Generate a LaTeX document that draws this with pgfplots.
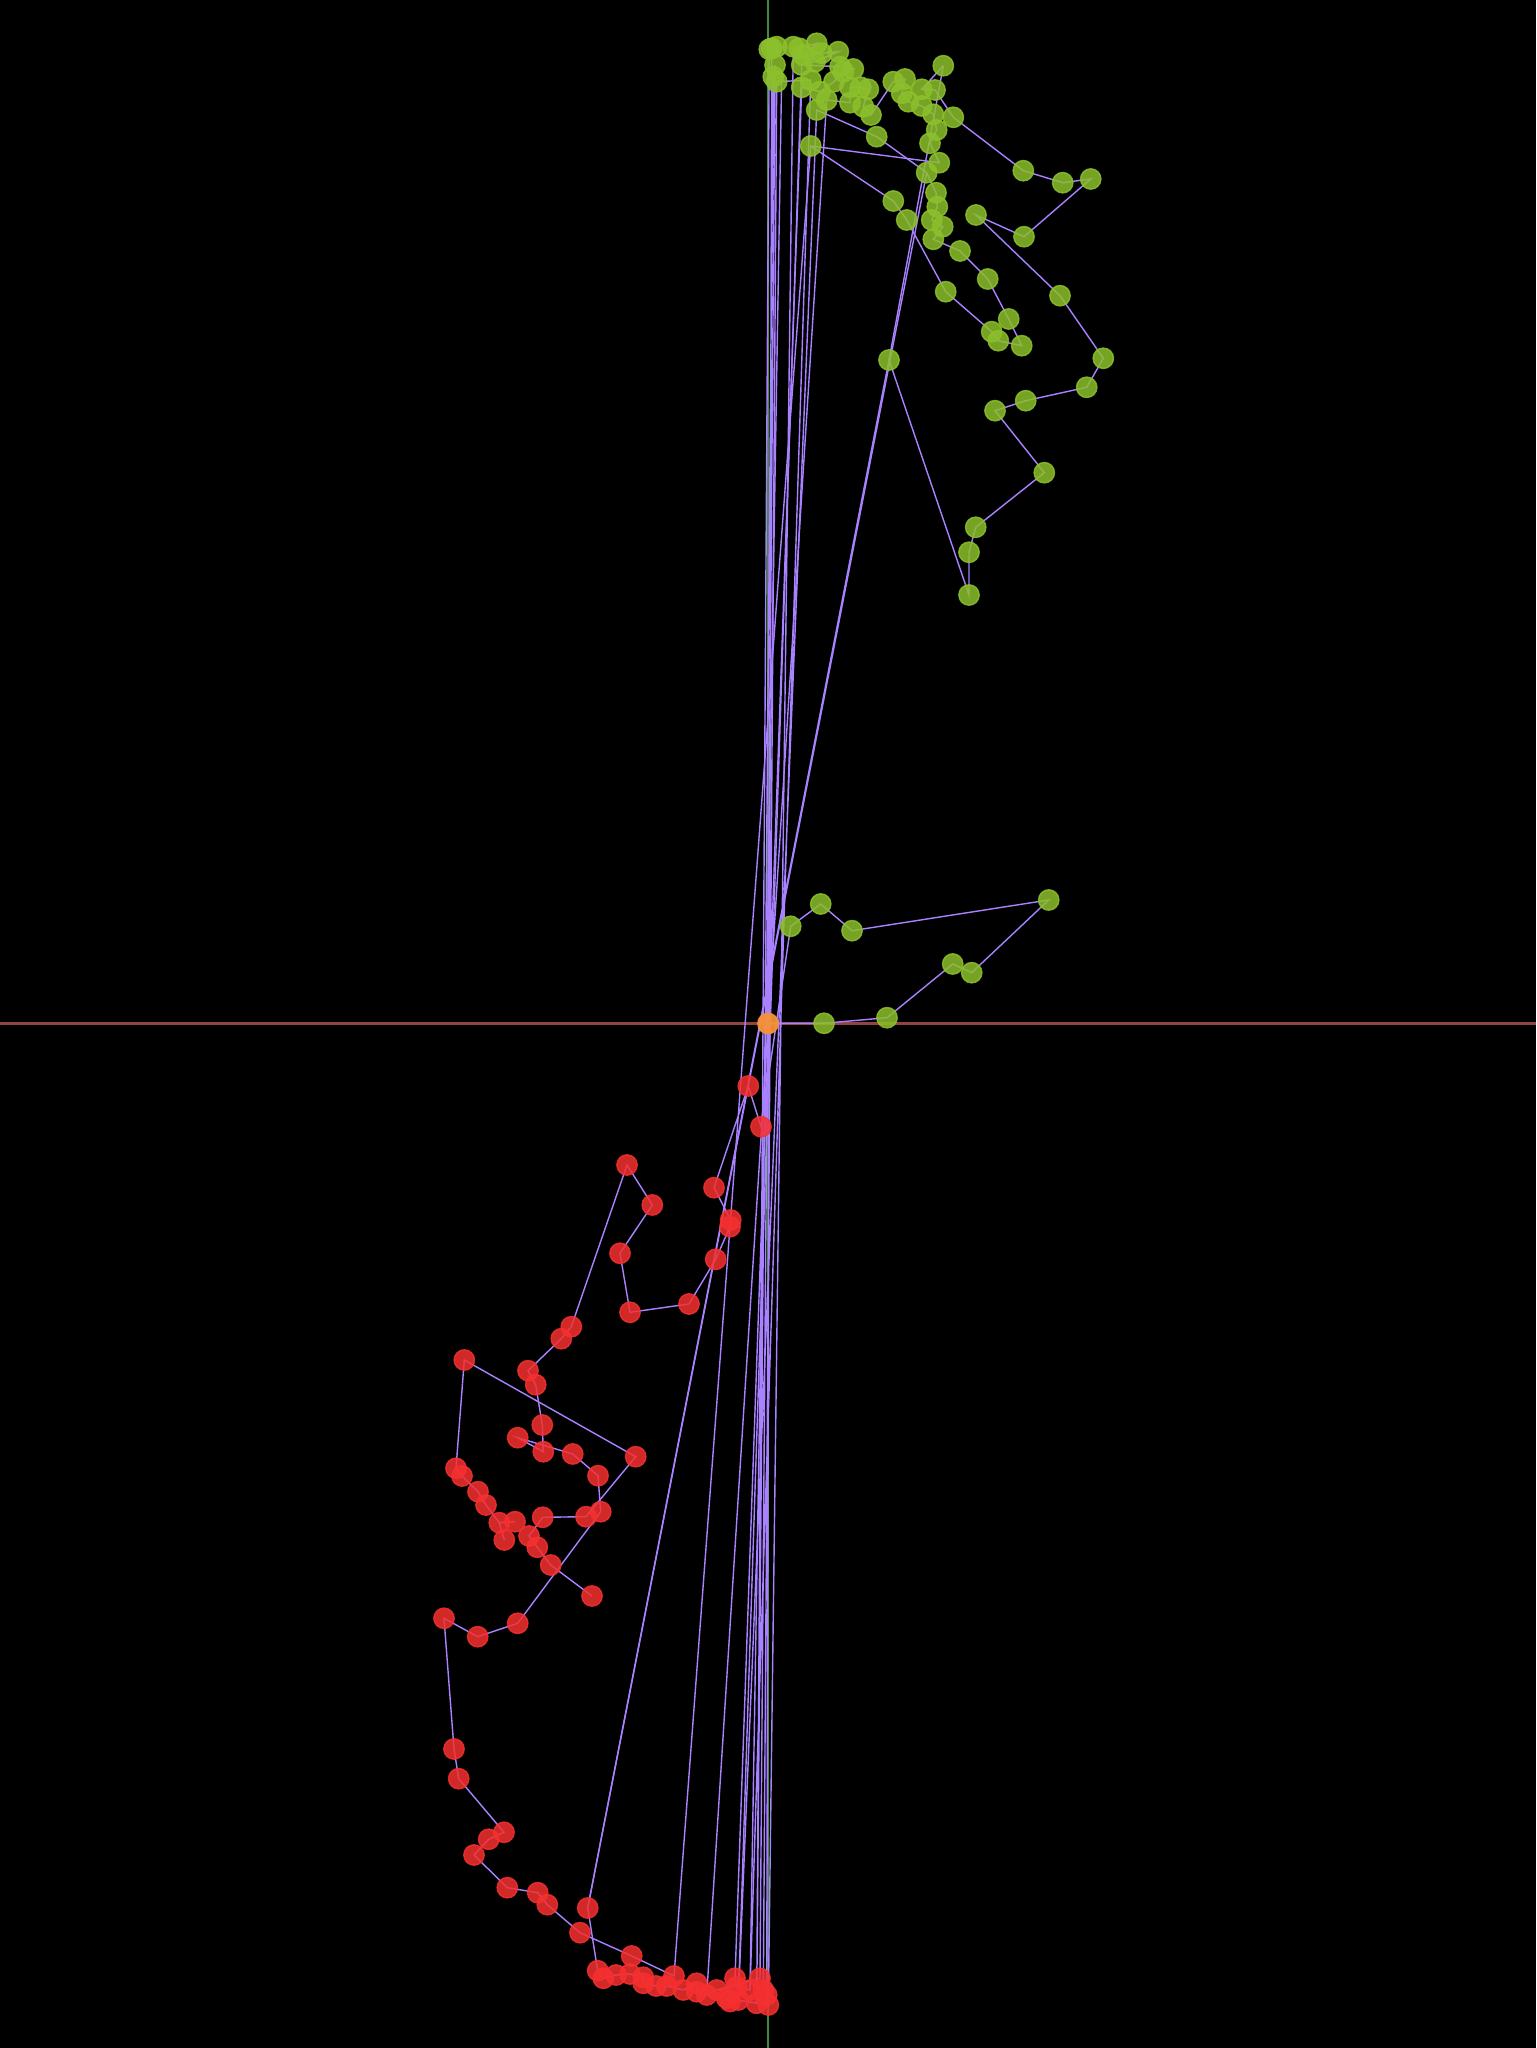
\documentclass[border=0pt]{standalone}
\usepackage{pgfplots}
\pgfplotsset{compat=1.18}
\definecolor{pl}{RGB}{168,130,255}
\definecolor{gm}{RGB}{140,192,44}
\definecolor{rm}{RGB}{246,48,48}
\definecolor{om}{RGB}{245,146,55}
\definecolor{axg}{RGB}{62,140,62}
\definecolor{axr}{RGB}{145,68,68}
\begin{document}
\begin{tikzpicture}
\begin{axis}[width=15.36cm,height=20.48cm,scale only axis,
  xmin=-768,xmax=768,ymin=-1024.5,ymax=1023.5,
  axis line style={draw=none},ticks=none,
  axis background/.style={fill=black}]
% ---- axis lines ----
\addplot[color=axg,line width=0.6pt,no marks] coordinates {(0,-1024.5)(0,1023.5)};
\addplot[color=axr,line width=0.6pt,no marks] coordinates {(-768,0)(768,0)};
% ---- trajectory segments ----
\addplot[color=pl,line width=0.4pt,no marks] coordinates {
(0,0)(56,0.2)(119,5.8)(184.7,59.5)(203.7,50.8)(280.7,123.5)(84,92.8)(52.7,119.5)(22.7,97.2)
(-7,-103.2)(-19.7,-62.5)(-54,-164.2)(-37.3,-196.5)(-38,-203.2)(-52.3,-235.8)(-79,-280.5)
(-138,-288.8)(-148,-229.8)(-115.7,-181.5)(-141,-141.5)(-196.7,-303.2)(-206.7,-315.2)
(-240,-347.2)(-232.3,-361.2)(-225.7,-401.5)(-224.7,-428.2)(-250.3,-414.2)(-195.3,-430.5)
(-170,-452.2)(-167.3,-488.2)(-250.3,-599.8)(-290.3,-613.2)(-324,-594.8)(-314,-725.5)
(-309.3,-755.2)(-264,-808.8)(-279.3,-815.8)(-294,-831.5)(-260.7,-864.2)(-230.3,-869.2)
(-220.7,-881.2)(-188,-909.2)(-136.3,-932.5)(-94,-952.5)
(42.7,877.5)(171.3,860.8)(162,880.2)(168.7,893.5)(165.3,909.2)(153.7,917.5)(140.3,921.8)
(133.7,930.2)(137,944.5)(125.3,941.8)(103,908.5)(95.3,916.8)(100.3,934.2)(92.7,936.2)
(82,936.2)(82,920.8)(58.7,923.5)};
\addplot[color=pl,line width=0.4pt,no marks] coordinates {
(42.7,877.5)(125.3,822.5)(138.7,803.5)(177.7,731.8)(223.7,691.8)(230.3,682.8)(253.7,677.8)
(240.7,704.5)(219.7,744.5)(192,772.5)(165.3,784.2)(174.7,796.8)(163.7,803.5)(169.3,816.8)
(168,830.8)(158.7,850.8)(108.7,886.8)(48.7,913.5)
(-29.7,-976.5)(-38,-978)(-41.3,-974.8)(0.3,-981.5)
(25.3,976.8)(31.3,975.2)(48.7,980.2)(35.3,968.5)(53.7,970.2)(70.3,971.8)(47,961.8)(33.7,958.5)
(72,956.8)(85.3,954.5)(75.3,951.8)(66,941.8)(52,931.8)(33.7,936.2)
(-33,-954.8)(-31.3,-963.2)(-18,-966.5)
(42.7,943.5)(8.7,941.8)
(-4.7,-966.5)(-1.3,-971.5)
(3.7,975.2)(8.7,976.8)(1.3,974.2)
(-11.3,-979.8)
(5.3,946.8)(7,958.5)
(-8,-954.8)(-51.3,-966.5)(-61.3,-971.5)(-71.3,-968.2)(-71.3,-959.8)(-84.7,-966.5)
(-101.3,-962.5)(-112,-962.5)(-124.7,-959.8)(-124.7,-953.8)(-138,-950.5)(-152,-951.5)
(-164.7,-954.8)(-170.3,-947.2)(-180.3,-884.5)
(121,663.5)(201,428.5)(201,471.2)(207.7,496.2)(276.3,550.8)(227,612.8)(257.7,622.8)
(318.7,636.2)(335.3,665.2)(292,727.8)(208,808.5)(256,786.8)(322.7,844.5)(294.7,840.8)
(255.3,852.8)(185.3,906.2)(167,933.5)(153.7,934.2)(175.3,957.8)};
\addplot[color=pl,line width=0.4pt,no marks] coordinates {(121,663.5)(175.3,957.8)};
\addplot[color=pl,line width=0.4pt,no marks] coordinates {(-180.3,-884.5)(158.7,850.8)};
\addplot[color=pl,line width=0.4pt,no marks] coordinates {(58.7,923.5)(-61.3,-971.5)};
\addplot[color=pl,line width=0.4pt,no marks] coordinates {(33.7,958.5)(-29.7,-976.5)};
\addplot[color=pl,line width=0.4pt,no marks] coordinates {(13.7,950)(-18,-966.5)};
\addplot[color=pl,line width=0.4pt,no marks] coordinates {(-176,-572.5)(-217.3,-541.5)(-230.7,-523.8)(-239,-512.5)(-225.3,-493.8)(-182,-493.2)(-132.3,-433.2)(-303.7,-336.5)(-312,-444.8)(-306,-452.5)(-290,-468.2)(-282,-481.5)(-268.7,-499.2)(-253,-498.2)};
\addplot[color=pl,line width=0.4pt,no marks] coordinates {(-268.7,-499.2)(-263.7,-516.5)};
% ---- green points ----
\addplot[only marks,mark=*,mark size=2.9pt,color=gm,opacity=0.85] coordinates {
(3.7,975.2)(1.3,974.2)(8.7,976.8)(7,958.5)(5.3,946.8)(8.7,941.8)(25.3,976.8)(31.3,975.2)
(48.7,980.2)(35.3,968.5)(53.7,970.2)(70.3,971.8)(47,961.8)(33.7,958.5)(72,956.8)(85.3,954.5)
(75.3,951.8)(66,941.8)(42.7,943.5)(33.7,936.2)(52,931.8)(58.7,923.5)(48.7,913.5)(82,936.2)
(92.7,936.2)(100.3,934.2)(82,920.8)(95.3,916.8)(103,908.5)(125.3,941.8)(137,944.5)(133.7,930.2)
(140.3,921.8)(153.7,934.2)(167,933.5)(153.7,917.5)(165.3,909.2)(175.3,957.8)(185.3,906.2)
(168.7,893.5)(162,880.2)(108.7,886.8)(42.7,877.5)(171.3,860.8)(158.7,850.8)(255.3,852.8)
(294.7,840.8)(322.7,844.5)
(168,830.8)(169.3,816.8)(163.7,803.5)(174.7,796.8)(165.3,784.2)(192,772.5)(219.7,744.5)
(177.7,731.8)(125.3,822.5)(138.7,803.5)(208,808.5)(256,786.8)(292,727.8)(240.7,704.5)
(223.7,691.8)(230.3,682.8)(253.7,677.8)(335.3,665.2)(318.7,636.2)(257.7,622.8)(227,612.8)
(121,663.5)(276.3,550.8)(207.7,496.2)(201,471.2)(201,428.5)
(22.7,97.2)(52.7,119.5)(84,92.8)(280.7,123.5)(203.7,50.8)(184.7,59.5)(119,5.8)(56,0.2)};
% ---- red points ----
\addplot[only marks,mark=*,mark size=2.9pt,color=rm,opacity=0.85] coordinates {
(-19.7,-62.5)(-7,-103.2)(-141,-141.5)(-115.7,-181.5)(-54,-164.2)(-37.3,-196.5)(-38,-203.2)
(-148,-229.8)(-52.3,-235.8)(-79,-280.5)(-138,-288.8)(-196.7,-303.2)(-206.7,-315.2)
(-303.7,-336.5)(-240,-347.2)(-232.3,-361.2)(-225.7,-401.5)(-250.3,-414.2)(-224.7,-428.2)
(-195.3,-430.5)(-132.3,-433.2)(-170,-452.2)(-312,-444.8)(-306,-452.5)(-290,-468.2)
(-282,-481.5)(-268.7,-499.2)(-253,-498.2)(-263.7,-516.5)(-225.3,-493.8)(-182,-493.2)
(-167.3,-488.2)(-239,-512.5)(-230.7,-523.8)(-217.3,-541.5)(-176,-572.5)(-324,-594.8)
(-290.3,-613.2)(-250.3,-599.8)(-314,-725.5)(-309.3,-755.2)(-264,-808.8)(-279.3,-815.8)
(-294,-831.5)(-260.7,-864.2)(-230.3,-869.2)(-220.7,-881.2)(-180.3,-884.5)(-188,-909.2)
(-136.3,-932.5)(-94,-952.5)(-170.3,-947.2)(-164.7,-954.8)(-152,-951.5)(-138,-950.5)
(-124.7,-953.8)(-124.7,-959.8)(-112,-962.5)(-101.3,-962.5)(-84.7,-966.5)(-71.3,-959.8)
(-71.3,-968.2)(-61.3,-971.5)(-51.3,-966.5)(-41.3,-974.8)(-33,-954.8)(-31.3,-963.2)
(-29.7,-976.5)(-18,-966.5)(-8,-954.8)(-4.7,-966.5)(-1.3,-971.5)(-11.3,-979.8)(0.3,-981.5)
(-38,-978)};
% ---- start point ----
\addplot[only marks,mark=*,mark size=2.9pt,color=om,opacity=0.95] coordinates {(0,0)};
\end{axis}
\end{tikzpicture}
\end{document}
